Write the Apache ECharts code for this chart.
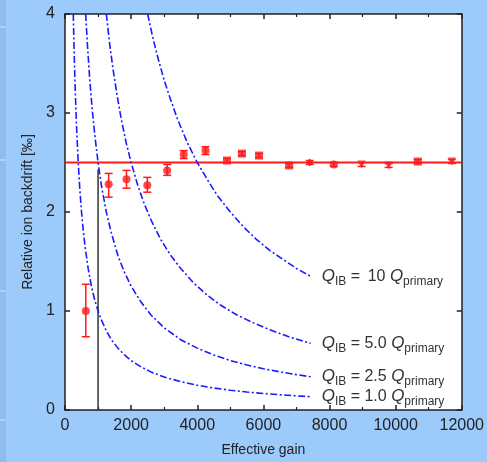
<!DOCTYPE html>
<html><head><meta charset="utf-8">
<script src="https://cdn.jsdelivr.net/npm/echarts@6/dist/echarts.min.js"></script>
<style>html,body{margin:0;padding:0;background:#9ccbfb;}#c{width:487px;height:462px;}</style>
</head><body><div id="c"></div>
<script>
// Measured points (effective gain, relative ion backdrift ‰)
const gain = [630, 1320, 1860, 2490, 3090, 3590, 4250, 4900, 5350, 5870, 6780, 7400, 8130, 8970, 9790, 10670, 11700];
const ibf  = [1.00, 2.28, 2.33, 2.27, 2.42, 2.58, 2.62, 2.52, 2.59, 2.57, 2.47, 2.50, 2.48, 2.48, 2.47, 2.51, 2.51];
const errLo = [0.74, 2.15, 2.24, 2.20, 2.37, 2.54, 2.58, 2.50, 2.57, 2.55, 2.45, 2.48, 2.46, 2.46, 2.45, 2.49, 2.49];
const errHi = [1.27, 2.39, 2.42, 2.35, 2.48, 2.62, 2.66, 2.54, 2.61, 2.59, 2.49, 2.52, 2.50, 2.50, 2.49, 2.53, 2.53];
const markers = ['circle','circle','circle','circle','circle','circle','circle','rect','rect','rect','rect','diamond','circle','triangle','triangle','rect','triangle'];

// Q_IB curves
const q1x  = [250, 275, 300, 325, 350, 400, 450, 500, 550, 600, 700, 800, 900, 1000, 1100, 1250, 1400, 1600, 1800, 2000, 2300, 2600, 3000, 3500, 4000, 4500, 5000, 5500, 6000, 6500, 7000, 7430];
const q1y  = [4.00, 3.64, 3.33, 3.08, 2.86, 2.50, 2.22, 2.00, 1.82, 1.67, 1.43, 1.25, 1.11, 1.00, 0.91, 0.80, 0.71, 0.625, 0.556, 0.50, 0.435, 0.385, 0.333, 0.286, 0.25, 0.222, 0.20, 0.182, 0.167, 0.154, 0.143, 0.135];
const q25x = [625, 680, 750, 820, 900, 1000, 1100, 1250, 1400, 1600, 1800, 2000, 2300, 2600, 3000, 3500, 4000, 4500, 5000, 5500, 6000, 6500, 7000, 7430];
const q25y = [4.00, 3.68, 3.33, 3.05, 2.78, 2.50, 2.27, 2.00, 1.79, 1.56, 1.39, 1.25, 1.09, 0.96, 0.83, 0.71, 0.625, 0.556, 0.50, 0.455, 0.417, 0.385, 0.357, 0.336];
const q5x  = [1250, 1350, 1450, 1550, 1700, 1850, 2000, 2200, 2400, 2600, 2900, 3200, 3500, 3900, 4300, 4700, 5200, 5700, 6200, 6800, 7430];
const q5y  = [4.00, 3.70, 3.45, 3.23, 2.94, 2.70, 2.50, 2.27, 2.08, 1.92, 1.72, 1.56, 1.43, 1.28, 1.16, 1.06, 0.96, 0.88, 0.81, 0.735, 0.673];
const q10x = [2500, 2650, 2800, 3000, 3200, 3400, 3700, 4000, 4300, 4600, 5000, 5400, 5800, 6200, 6600, 7000, 7430];
const q10y = [4.00, 3.77, 3.57, 3.33, 3.13, 2.94, 2.70, 2.50, 2.33, 2.17, 2.00, 1.85, 1.72, 1.61, 1.52, 1.43, 1.35];
const curveNames = ['\u200910', '5.0', '2.5', '1.0'];

const refLevel = 2.5;
const gainLimitX = [1000, 1000];
const gainLimitY = [0, 2.43];
const xTicks = [0, 2000, 4000, 6000, 8000, 10000, 12000];
const yTicks = [0, 1, 2, 3, 4];

const zip = (a, b) => a.map((v, i) => [v, b[i]]);
const chart = echarts.init(document.getElementById('c'));
const blue = '#1a1aff';
const red = '#ff1a1a';
const axisCol = '#222';
const FF = 'Liberation Sans, Arial, sans-serif';

function curve(xs, ys, nm) {
  return {
    type: 'line', data: zip(xs, ys), showSymbol: false, smooth: false,
    lineStyle: { color: blue, width: 1.6, type: [7, 2.5, 2, 2.5] }, z: 3, silent: true,
    endLabel: {
      show: true, distance: 11,
      formatter: () => '{qi|Q}{s|IB}{q| = ' + nm + ' }{qi|Q}{s|primary}',
      rich: {
        qi: { fontSize: 17, color: '#333', fontFamily: FF, fontStyle: 'italic', lineHeight: 22, verticalAlign: 'middle' },
        q: { fontSize: 16, color: '#333', fontFamily: FF, lineHeight: 22, verticalAlign: 'middle' },
        s: { fontSize: 12, color: '#333', fontFamily: FF, lineHeight: 22, padding: [10, 0, 0, 0], verticalAlign: 'middle' }
      }
    }
  };
}

const axisCommon = {
  axisLine: { show: true, onZero: false, lineStyle: { color: axisCol, width: 1.5 } },
  axisTick: { show: true, inside: true, length: 5, lineStyle: { color: axisCol, width: 1.5 } },
  minorTick: { show: true, splitNumber: 2, length: 3, lineStyle: { color: axisCol, width: 1.2 } },
  splitLine: { show: false },
  axisLabel: { fontSize: 16, color: '#222', fontFamily: FF, formatter: v => String(v) }
};

chart.setOption({
  animation: false,
  backgroundColor: '#9ccbfb',
  graphic: [
    { type: 'rect', shape: { x: 0, y: 0, width: 6, height: 462 }, style: { fill: '#8fbceb' }, silent: true },
    { type: 'rect', shape: { x: 0, y: 26, width: 6, height: 2 }, style: { fill: '#a9d2fb' }, silent: true },
    { type: 'rect', shape: { x: 0, y: 159, width: 6, height: 2 }, style: { fill: '#a9d2fb' }, silent: true },
    { type: 'rect', shape: { x: 0, y: 290, width: 6, height: 2 }, style: { fill: '#a9d2fb' }, silent: true },
    { type: 'rect', shape: { x: 0, y: 419, width: 6, height: 2 }, style: { fill: '#a9d2fb' }, silent: true }
  ],
  grid: { left: 65, top: 14, right: 24, bottom: 50, show: true, backgroundColor: '#ffffff', borderWidth: 0 },
  xAxis: [
    Object.assign({}, axisCommon, {
      type: 'value', min: xTicks[0], max: xTicks[xTicks.length - 1], interval: 2000, position: 'bottom',
      name: 'Effective gain', nameLocation: 'middle', nameGap: 33,
      nameTextStyle: { fontSize: 14, color: '#222', fontFamily: FF },
      axisLabel: Object.assign({}, axisCommon.axisLabel, { margin: 8 })
    }),
    Object.assign({}, axisCommon, {
      type: 'value', min: xTicks[0], max: xTicks[xTicks.length - 1], interval: 2000, position: 'top',
      axisLabel: { show: false }
    })
  ],
  yAxis: [
    Object.assign({}, axisCommon, {
      type: 'value', min: yTicks[0], max: yTicks[yTicks.length - 1], interval: 1, position: 'left',
      minorTick: { show: false },
      name: 'Relative ion backdrift [‰]', nameLocation: 'middle', nameGap: 30,
      nameTextStyle: { fontSize: 14, color: '#222', fontFamily: FF },
      axisLabel: Object.assign({}, axisCommon.axisLabel, { margin: 10 })
    }),
    Object.assign({}, axisCommon, {
      type: 'value', min: yTicks[0], max: yTicks[yTicks.length - 1], interval: 1, position: 'right',
      minorTick: { show: false }, axisLabel: { show: false }
    })
  ],
  series: [
    { type: 'line', data: zip(gainLimitX, gainLimitY), showSymbol: false, silent: true,
      lineStyle: { color: '#333', width: 1.5 }, z: 2 },
    { type: 'line', data: [[xTicks[0], refLevel], [xTicks[xTicks.length - 1], refLevel]], showSymbol: false, silent: true,
      lineStyle: { color: red, width: 2 }, z: 2 },
    curve(q10x, q10y, curveNames[0]),
    curve(q5x, q5y, curveNames[1]),
    curve(q25x, q25y, curveNames[2]),
    curve(q1x, q1y, curveNames[3]),
    { type: 'custom', z: 4, silent: true,
      data: gain.map((g, i) => [g, errLo[i], errHi[i]]),
      renderItem: function (params, api) {
        const lo = api.coord([api.value(0), api.value(1)]);
        const hi = api.coord([api.value(0), api.value(2)]);
        const w = 4;
        const st = { stroke: red, lineWidth: 1.5 };
        return { type: 'group', children: [
          { type: 'line', shape: { x1: lo[0], y1: lo[1], x2: hi[0], y2: hi[1] }, style: st },
          { type: 'line', shape: { x1: lo[0] - w, y1: lo[1], x2: lo[0] + w, y2: lo[1] }, style: st },
          { type: 'line', shape: { x1: hi[0] - w, y1: hi[1], x2: hi[0] + w, y2: hi[1] }, style: st }
        ]};
      }
    },
    { type: 'scatter', z: 5, silent: true,
      data: gain.map((g, i) => ({ value: [g, ibf[i]], symbol: markers[i],
        symbolRotate: markers[i] === 'triangle' ? 180 : 0 })),
      symbolSize: 8, itemStyle: { color: red } }
  ]
});
</script></body></html>
